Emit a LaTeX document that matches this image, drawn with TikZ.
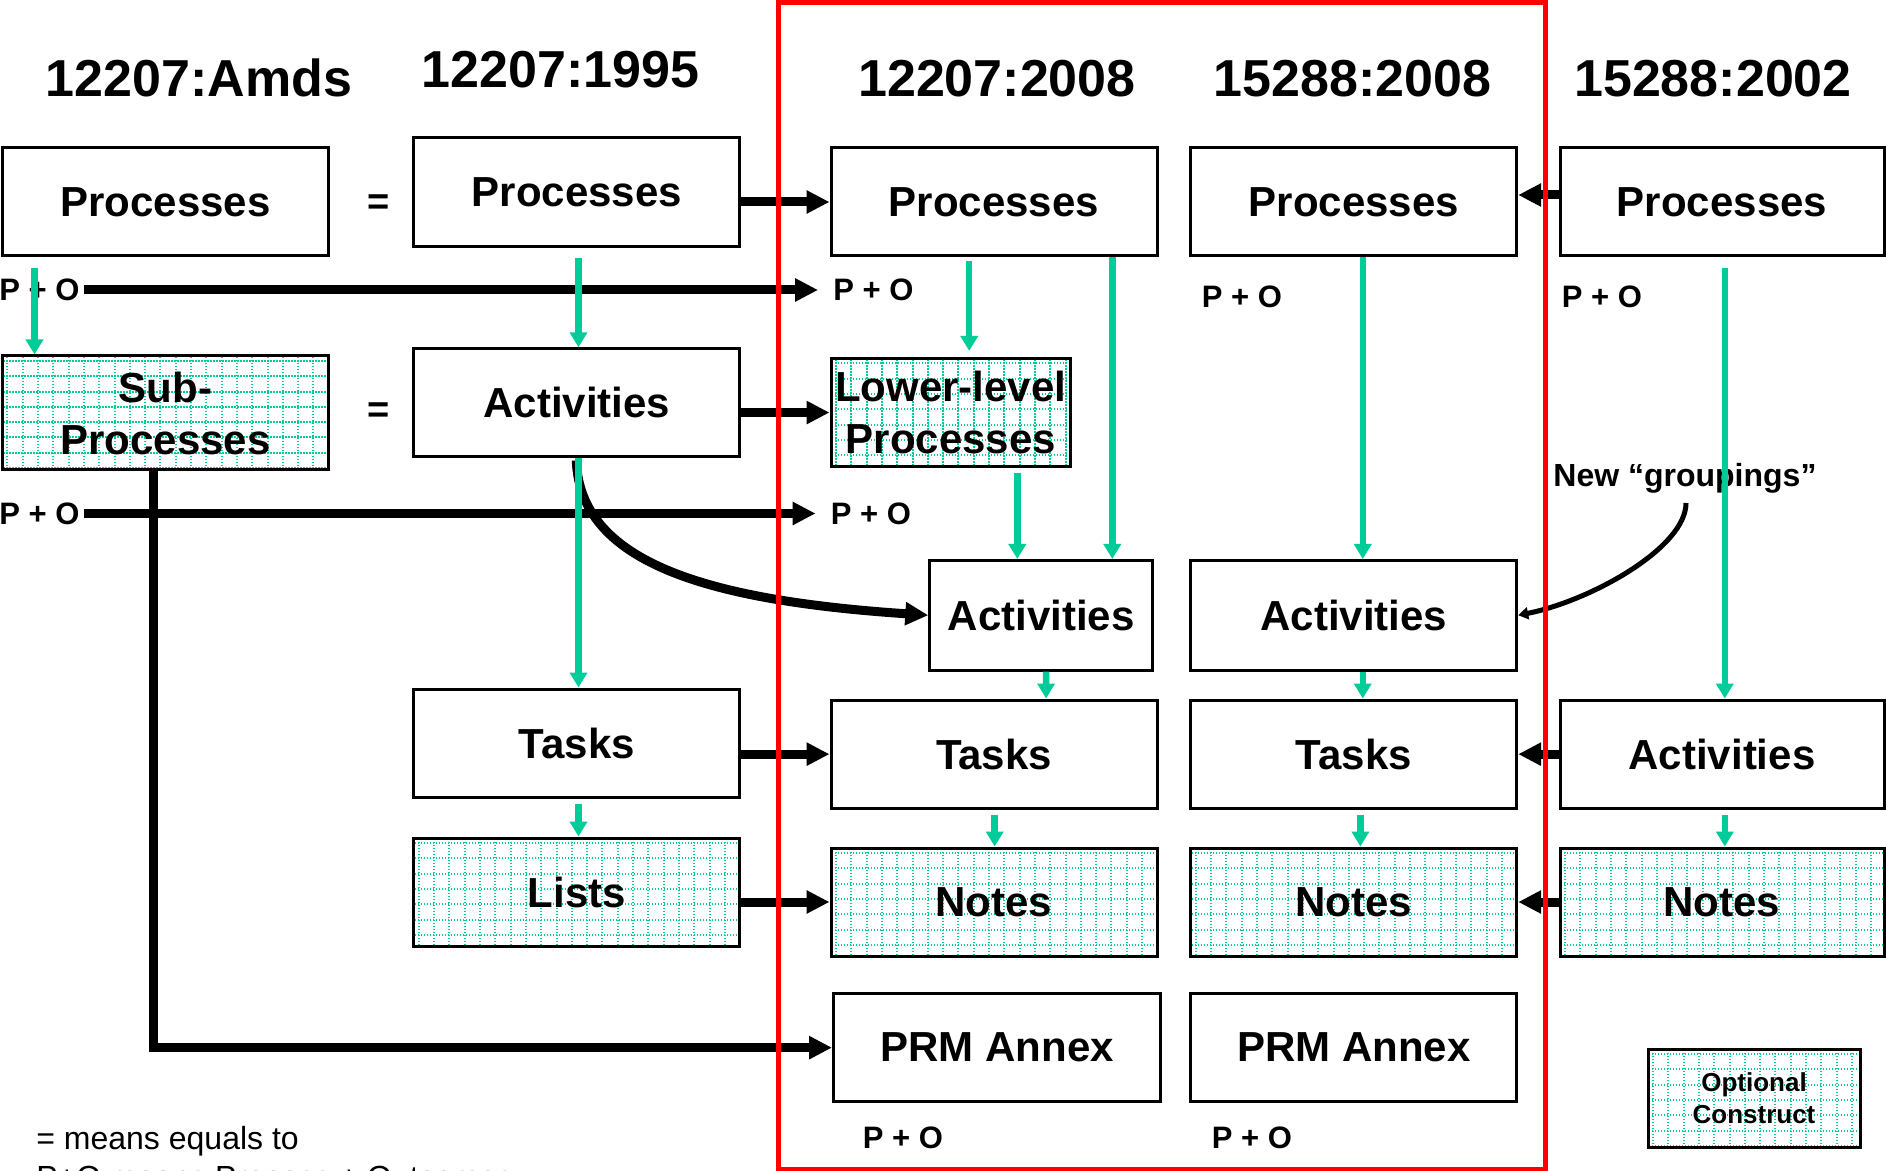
\documentclass[tikz,border=0pt]{standalone}
\usepackage{fontspec}
\setmainfont{Liberation Sans}
\usetikzlibrary{arrows.meta,calc}
\definecolor{tealc}{RGB}{0,204,153}
\definecolor{redc}{RGB}{255,0,0}
% \bx{style}{x1}{y1}{x2}{y2}{name}{text}
\newcommand\bx[7]{\node[#1, minimum width={(#4-#2)*0.5pt}, minimum height={(#5-#3)*0.5pt}] (#6) at ({(#2+#4)/2},{(#3+#5)/2}) {#7};}
\begin{document}
\begin{tikzpicture}[x=0.5pt,y=-0.5pt,
  box/.style={draw=black, line width=1.5pt, fill=white, inner sep=0pt, align=center,
    font=\bfseries\fontsize{21}{26}\selectfont},
  gridln/.style={draw=tealc, line width=1pt, dash pattern=on 0.6pt off 0.9pt},
  opt/.style={box, path picture={
    \foreach \k in {0,...,30}{
      \draw[gridln] ($(path picture bounding box.north west)+(5+\k*15.3,-5)$) -- ++(0,300);
      \draw[gridln] ($(path picture bounding box.north west)+(-5,5+\k*15.3)$) -- ++(500,0);
    }}},
  ttl/.style={font=\bfseries\fontsize{26}{30}\selectfont, anchor=base, inner sep=0pt},
  po/.style={font=\bfseries\fontsize{15.5}{18}\selectfont, inner sep=0pt},
  eqs/.style={font=\bfseries\fontsize{19}{22}\selectfont, inner sep=0pt},
  barr/.style={draw=black, line width=4.5pt, -{Triangle[length=11.5pt,width=11pt]}},
  thin/.style={draw=black, line width=2.5pt, -{Triangle[length=5pt,width=6pt]}},
  tarr/.style={draw=tealc, line width=3.25pt, -{Triangle[length=7.5pt,width=8.5pt]}},
  note/.style={font=\fontsize{16}{18}\selectfont, inner sep=0pt, anchor=base west}
]
\useasboundingbox (0,0) rectangle (1886,1171);

% titles
\node[ttl] (t1) at (199,97) {12207:Amds};
\node[ttl] (t2) at (560.5,88) {12207:1995};
\node[ttl] (t3) at (997,97) {12207:2008};
\node[ttl] (t4) at (1352.5,97) {15288:2008};
\node[ttl] (t5) at (1713,97) {15288:2002};

% column 1
\bx{box}{2.4}{148}{328.4}{256}{ap}{Processes}
\bx{opt}{2.4}{356}{328.4}{470}{asp}{Sub-\\Processes}
% column 2
\bx{box}{413.8}{138}{739.7}{246.6}{bp}{Processes}
\bx{box}{413.8}{348.8}{739.7}{457}{ba}{Activities}
\bx{box}{413.8}{689}{739.7}{797.5}{bt}{Tasks}
\bx{opt}{413.8}{838}{739.7}{946.6}{bl}{Lists}
% column 3
\bx{box}{831}{148}{1157}{256}{cp}{Processes}
\bx{opt}{831}{358.4}{1070.5}{466.7}{cll}{Lower-level\\Processes}
\bx{box}{929.8}{560.5}{1152.3}{670}{ca}{Activities}
\bx{box}{831}{700}{1157}{808.3}{ct}{Tasks}
\bx{opt}{831}{848}{1157}{956}{cn}{Notes}
\bx{box}{833.5}{993.5}{1160.7}{1101.8}{cprm}{PRM Annex}
% column 4
\bx{box}{1190.8}{148}{1516.7}{256}{dp}{Processes}
\bx{box}{1190.8}{560.5}{1516.7}{670}{da}{Activities}
\bx{box}{1190.8}{700}{1516.7}{808.3}{dt}{Tasks}
\bx{opt}{1190.8}{848}{1516.7}{956}{dn}{Notes}
\bx{box}{1190.8}{993.5}{1516.7}{1101.8}{dprm}{PRM Annex}
% column 5
\bx{box}{1560}{148}{1884}{256}{ep}{Processes}
\bx{box}{1560}{700}{1884}{808.3}{ea}{Activities}
\bx{opt}{1560}{848}{1884}{956}{en}{Notes}
% legend box
\bx{opt, font=\bfseries\fontsize{13}{16}\selectfont}{1648}{1049}{1860}{1147}{opt}{Optional\\Construct}

% equals
\node[eqs] (eq1) at (379,204.5) {=};
\node[eqs] (eq2) at (379,412.6) {=};

% P + O labels
\node[po] (po1) at (39.5,290) {P + O};
\node[po] (po2) at (873.5,290) {P + O};
\node[po] (po3) at (1242,297) {P + O};
\node[po] (po4) at (1602,297) {P + O};
\node[po] (po5) at (39.5,513.5) {P + O};
\node[po] (po6) at (871,513.5) {P + O};
\node[po] (po7) at (903,1138) {P + O};
\node[po] (po8) at (1252,1138) {P + O};

\node[font=\bfseries\fontsize{16}{18}\selectfont, inner sep=0pt, anchor=base west] (ng) at (1553,487) {New “groupings”};

\node[note] (n1) at (36,1149) {= means equals to};
\node[note] (n2) at (36,1188) {P+O means Process + Outcomes};

% black connectors
\draw[barr] ($(po1.east)+(4,0)$) -- ($(po2.west)+(-15,0)$);
\draw[barr] ($(po5.east)+(4,0)$) -- ($(po6.west)+(-15,0)$);
\draw[barr] (bp.east |- cp.west) -- (cp.west);
\draw[barr] (ba.east |- cll.west) -- (cll.west);
\draw[barr] (bt.east |- ct.west) -- (ct.west);
\draw[barr] (bl.east |- cn.west) -- (cn.west);
\draw[barr] ($(ep.west)+(0,-7)$) -- ($(dp.east)+(0,-7)$);
\draw[barr] (ea.west) -- (dt.east);
\draw[barr] (en.west) -- (dn.east);
\draw[barr] ($(asp.south west)+(152.6,0)$) |- (cprm.west);
\draw[barr] ($(ba.south west)+(164,2)$) .. controls (580,560) and (700,600) .. (ca.west);
\draw[thin] ($(ng.base west)+(133,16)$) .. controls (1686,548) and (1590,601) .. (da.east);

% teal connectors
\draw[tarr] ($(ap.south west)+(33.6,11)$) -- ($(asp.north west)+(33.6,0)$);
\draw[tarr] ($(bp.south)+(1.75,10)$) -- ($(ba.north)+(1.75,0)$);
\draw[tarr] ($(ba.south)+(1.75,0)$) -- ($(bt.north)+(1.75,0)$);
\draw[tarr] ($(bt.south)+(1.75,5)$) -- ($(bl.north)+(1.75,0)$);
\draw[tarr] ($(cp.south west)+(139.7,4)$) -- ($(cll.north west)+(139.7,-6)$);
\draw[tarr] ($(cp.south west)+(282.8,0)$) -- ($(ca.north west)+(184,0)$);
\draw[tarr] ($(cll.south west)+(187.8,5)$) -- ($(ca.north west)+(89,0)$);
\draw[tarr] ($(ca.south west)+(117.8,0)$) -- ($(ct.north west)+(216.6,0)$);
\draw[tarr] ($(ct.south)+(0.7,5)$) -- ($(cn.north)+(0.7,0)$);
\draw[tarr] ($(dp.south)+(9,0)$) -- ($(da.north)+(9,0)$);
\draw[tarr] ($(da.south)+(9,0)$) -- ($(dt.north)+(9,0)$);
\draw[tarr] ($(dt.south)+(6.6,5)$) -- ($(dn.north)+(6.6,0)$);
\draw[tarr] ($(ep.south)+(2.8,11)$) -- ($(ea.north)+(2.8,0)$);
\draw[tarr] ($(ea.south)+(2.8,5)$) -- ($(en.north)+(2.8,0)$);

% red frame
\draw[draw=redc, line width=2.5pt] (778,3) rectangle (1545.6,1169);
\end{tikzpicture}
\end{document}
